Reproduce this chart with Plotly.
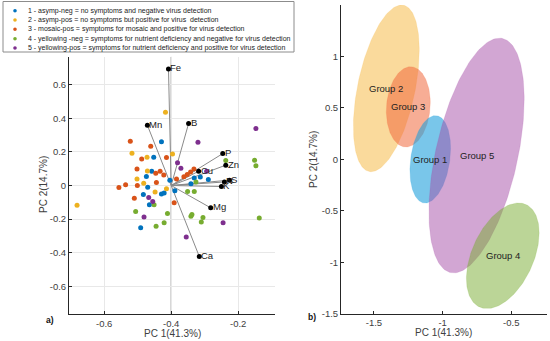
import numpy as np
import plotly.graph_objects as go

# ---------------- data: left panel (biplot) ----------------
group_names = [
    "1 - asymp-neg = no symptoms and negative virus detection",
    "2 - asymp-pos = no symptoms but positive for virus  detection",
    "3 - mosaic-pos = symptoms for mosaic and positive for virus detection",
    "4 - yellowing -neg = symptoms for nutrient deficiency and negative for virus detection",
    "5 - yellowing-pos = symptoms for nutrient deficiency and positive for virus detection",
]
group_colors = ["#0072BD", "#EDB120", "#D95319", "#77AC30", "#7E2F8E"]

g1_x = [-0.429, -0.452, -0.458, -0.474, -0.331, -0.313, -0.289, -0.341, -0.404, -0.470,
        -0.389, -0.483, -0.465, -0.491, -0.429, -0.421]
g1_y = [0.260, 0.168, 0.085, 0.054, 0.045, 0.051, 0.036, 0.010, 0.032, -0.010,
        -0.032, -0.054, -0.115, -0.252, -0.050, -0.044]

g2_x = [-0.417, -0.517, -0.396, -0.472, -0.471, -0.502, -0.482, -0.414, -0.681, -0.448]
g2_y = [0.436, 0.192, 0.188, 0.168, 0.087, 0.039, 0.014, -0.020, -0.117, -0.038]

g3_x = [-0.522, -0.461, -0.488, -0.414, -0.502, -0.433, -0.422, -0.446, -0.332, -0.342,
        -0.352, -0.362, -0.384, -0.556, -0.536, -0.501, -0.444, -0.510, -0.391]
g3_y = [0.264, 0.234, 0.158, 0.167, 0.099, 0.085, 0.063, 0.073, 0.099, 0.080,
        0.066, 0.052, 0.038, -0.012, 0.004, 0.000, 0.018, -0.076, -0.103]

g4_x = [-0.237, -0.151, -0.147, -0.326, -0.451, -0.506, -0.411, -0.421, -0.445, -0.351,
        -0.331, -0.341, -0.338, -0.305, -0.310, -0.137]
g4_y = [0.149, 0.151, 0.117, 0.021, -0.115, -0.155, -0.167, -0.222, -0.242, -0.036,
        -0.036, -0.183, -0.173, -0.190, -0.218, -0.193]

g5_x = [-0.320, -0.147, -0.381, -0.371, -0.294, -0.467, -0.455, -0.481, -0.355, -0.245]
g5_y = [0.258, 0.339, 0.135, 0.103, 0.085, -0.071, -0.095, -0.187, -0.306, -0.222]

groups_x = [g1_x, g2_x, g3_x, g4_x, g5_x]
groups_y = [g1_y, g2_y, g3_y, g4_y, g5_y]

origin_x, origin_y = -0.4, 0.0
var_names = ["Fe", "Mn", "B", "P", "Zn", "Cu", "N", "S", "K", "Mg", "Ca"]
var_x = [-0.408, -0.471, -0.348, -0.246, -0.237, -0.318, -0.241, -0.226, -0.250, -0.282, -0.316]
var_y = [0.694, 0.359, 0.369, 0.190, 0.121, 0.085, 0.021, 0.032, -0.006, -0.133, -0.423]

# ---------------- data: right panel (group ellipses) ----------------
ell_names = ["Group 2", "Group 3", "Group 1", "Group 5", "Group 4"]
ell_colors = ["#F5B63A", "#F06A3E", "#1FA0DC", "#A64DA8", "#77AC30"]
ell_cx = [-1.41, -1.25, -1.09, -0.753, -0.562]
ell_cy = [0.69, 0.51, 0.00, 0.037, -0.937]
ell_ax = [0.24, 0.16, 0.148, 0.347, 0.265]
ell_ay = [0.81, 0.39, 0.425, 1.141, 0.513]
ell_phase_deg = [62.6, 84.0, 75.5, 61.4, 64.3]
ell_alpha = [0.5, 0.55, 0.6, 0.5, 0.5]

FONT = "Liberation Sans, Arial, sans-serif"
AXC = "#262626"
W, H = 550, 341

fig = go.Figure()

# biplot origin lines
fig.add_shape(type="line", xref="x", yref="y", x0=-0.705, x1=-0.09, y0=origin_y, y1=origin_y,
              line=dict(color="#8a8a8a", width=1), layer="below")
fig.add_shape(type="line", xref="x", yref="y", x0=origin_x, x1=origin_x, y0=-0.767, y1=0.767,
              line=dict(color="#8a8a8a", width=1), layer="below")

# vectors
for vx, vy in zip(var_x, var_y):
    fig.add_trace(go.Scatter(x=[origin_x, vx], y=[origin_y, vy], mode="lines",
                             line=dict(color="#8a8a8a", width=1), showlegend=False,
                             hoverinfo="skip", xaxis="x", yaxis="y"))

# observations
for gx, gy, c, n in zip(groups_x, groups_y, group_colors, group_names):
    fig.add_trace(go.Scatter(x=gx, y=gy, mode="markers", name=n,
                             marker=dict(color=c, size=5), showlegend=False,
                             xaxis="x", yaxis="y"))

# vector endpoints
fig.add_trace(go.Scatter(x=var_x, y=var_y, mode="markers", marker=dict(color="black", size=5),
                         showlegend=False, xaxis="x", yaxis="y"))
for n, vx, vy in zip(var_names, var_x, var_y):
    fig.add_annotation(x=vx, y=vy, xref="x", yref="y", text=n, showarrow=False,
                       xanchor="left", yanchor="middle", xshift=0, yshift=1,
                       font=dict(family=FONT, size=9.5, color="#222222"))

# ellipses
t = np.linspace(0, 2 * np.pi, 200)
for n, c, cx, cy, ax_, ay_, ph, al in zip(ell_names, ell_colors, ell_cx, ell_cy, ell_ax,
                                          ell_ay, ell_phase_deg, ell_alpha):
    phr = np.deg2rad(ph)
    ex = cx + ax_ * np.cos(t)
    ey = cy + ay_ * np.cos(t + phr)
    r, g, b = int(c[1:3], 16), int(c[3:5], 16), int(c[5:7], 16)
    fig.add_trace(go.Scatter(x=ex, y=ey, mode="lines", fill="toself",
                             fillcolor=f"rgba({r},{g},{b},{al})",
                             line=dict(color=f"rgba({r},{g},{b},{al*0.6})", width=0.5),
                             showlegend=False, hoverinfo="skip", xaxis="x2", yaxis="y2"))
for n, cx, cy in zip(ell_names, ell_cx, ell_cy):
    fig.add_annotation(x=cx, y=cy, xref="x2", yref="y2", text=n, showarrow=False,
                       xanchor="center", yanchor="middle",
                       font=dict(family=FONT, size=9.5, color="#222222"))

# manual legend
L_left, L_right = 3 / W, 294 / W
L_top, L_bot = 1 - 1.5 / H, 1 - 52 / H
fig.add_shape(type="rect", xref="paper", yref="paper", x0=L_left, x1=L_right, y0=L_bot, y1=L_top,
              line=dict(color="#8c8c8c", width=1), fillcolor="white")
row_y = [10.7, 20.0, 29.3, 38.7, 48.0]
for n, c, ry in zip(group_names, group_colors, row_y):
    yp = 1 - ry / H
    fig.add_shape(type="circle", xref="paper", yref="paper", xsizemode="pixel", ysizemode="pixel",
                  xanchor=15 / W, yanchor=yp, x0=-1.8, x1=1.8, y0=-1.8, y1=1.8,
                  fillcolor=c, line=dict(color=c, width=0))
    fig.add_annotation(x=26 / W, y=yp, xref="paper", yref="paper", text=n, showarrow=False,
                       xanchor="left", yanchor="middle",
                       font=dict(family=FONT, size=7.0, color="#1a1a1a"))

# panel labels
fig.add_annotation(x=50 / W, y=1 - 319.5 / H, xref="paper", yref="paper", text="<b>a)</b>",
                   showarrow=False, xanchor="center", yanchor="middle",
                   font=dict(family=FONT, size=8.5, color="#111111"))
fig.add_annotation(x=312 / W, y=1 - 317 / H, xref="paper", yref="paper", text="<b>b)</b>",
                   showarrow=False, xanchor="center", yanchor="middle",
                   font=dict(family=FONT, size=8.5, color="#111111"))

# axis titles (placed as text in paper coordinates)
TF = dict(family=FONT, size=10, color="#404040")
for tx, ty, txt, ang in [(172, 333.5, "PC 1(41.3%)", 0), (443, 332.5, "PC 1(41.3%)", 0),
                         (43, 185, "PC 2(14.7%)", -90), (313, 160, "PC 2(14.7%)", -90)]:
    fig.add_annotation(x=tx / W, y=1 - ty / H, xref="paper", yref="paper", text=txt,
                       showarrow=False, textangle=ang, xanchor="center", yanchor="middle",
                       font=TF)

axis_common = dict(showline=True, linecolor=AXC, linewidth=1, ticks="inside", ticklen=3,
                   tickcolor=AXC, tickfont=dict(family=FONT, size=9.5, color="#404040"),
                   zeroline=False, mirror=False, automargin=False)

fig.update_layout(
    template="none",
    width=W, height=H, margin=dict(l=0, r=0, t=0, b=0, autoexpand=False),
    paper_bgcolor="white", plot_bgcolor="white", showlegend=False,
    xaxis=dict(domain=[69 / W, 275 / W], range=[-0.705, -0.09],
               tickvals=[-0.6, -0.4, -0.2], ticktext=["-0.6", "-0.4", "-0.2"],
               showgrid=True, gridcolor="#e8e8e8", gridwidth=1,
               anchor="y", **axis_common),
    yaxis=dict(domain=[1 - 314.3 / H, 1 - 56.7 / H], range=[-0.767, 0.767],
               tickvals=[-0.6, -0.4, -0.2, 0, 0.2, 0.4, 0.6],
               ticktext=["-0.6", "-0.4", "-0.2", "0", "0.2", "0.4", "0.6"],
               showgrid=True, gridcolor="#e8e8e8", gridwidth=1,
               anchor="x", **axis_common),
    xaxis2=dict(domain=[341 / W, 547 / W], range=[-1.74, -0.24],
                tickvals=[-1.5, -1, -0.5], ticktext=["-1.5", "-1", "-0.5"], showgrid=False,
                anchor="y2", **axis_common),
    yaxis2=dict(domain=[1 - 313.7 / H, 1 - 5 / H], range=[-1.5, 1.5],
                tickvals=[-1.5, -1, -0.5, 0, 0.5, 1, 1.5],
                ticktext=["-1.5", "-1", "-0.5", "0", "0.5", "1", "1.5"], showgrid=False,
                anchor="x2", **axis_common),
)

fig.write_html("out.html", config={"displayModeBar": False},
               post_script="document.body.style.margin='0';document.body.style.overflow='hidden';")
